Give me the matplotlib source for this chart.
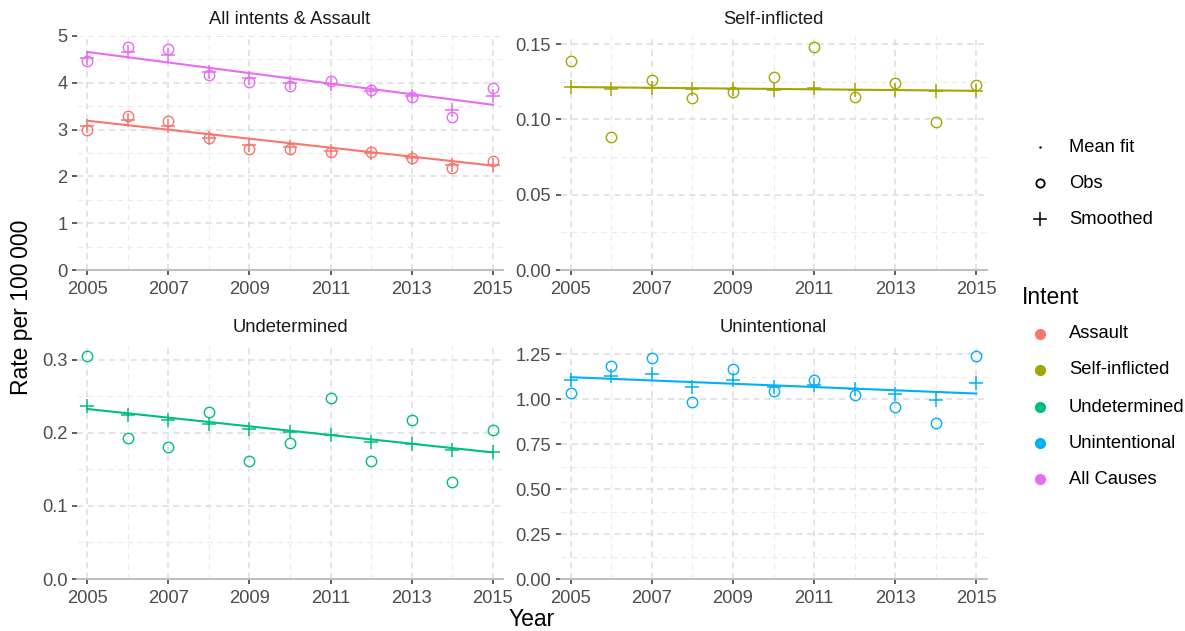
import numpy as np
import matplotlib
matplotlib.use("Agg")
import matplotlib.pyplot as plt
from matplotlib.ticker import FixedLocator

plt.rcParams['font.family'] = ['Liberation Sans', 'DejaVu Sans']

### data ###
years = [2005, 2006, 2007, 2008, 2009, 2010, 2011, 2012, 2013, 2014, 2015]
x_ticks = [2005, 2007, 2009, 2011, 2013, 2015]

assault_obs = [2.99, 3.30, 3.19, 2.83, 2.58, 2.58, 2.53, 2.53, 2.40, 2.17, 2.33]
assault_smooth = [3.08, 3.21, 3.08, 2.83, 2.67, 2.62, 2.55, 2.49, 2.39, 2.24, 2.24]
assault_fit = [3.19, 2.23]          # 2005, 2015

allcauses_obs = [4.47, 4.76, 4.72, 4.17, 4.01, 3.94, 4.04, 3.85, 3.70, 3.26, 3.88]
allcauses_smooth = [4.54, 4.65, 4.59, 4.24, 4.10, 4.00, 3.97, 3.82, 3.72, 3.42, 3.72]
allcauses_fit = [4.66, 3.53]

self_obs = [0.139, 0.0885, 0.1265, 0.114, 0.118, 0.128, 0.148, 0.115, 0.1245, 0.098, 0.1226]
self_smooth = [0.1217, 0.1204, 0.1206, 0.1200, 0.1200, 0.1195, 0.1206, 0.1195, 0.1195, 0.1186, 0.1188]
self_fit = [0.1215, 0.1190]

undet_obs = [0.3046, 0.1927, 0.1804, 0.2279, 0.1607, 0.1863, 0.2470, 0.1612, 0.2169, 0.1329, 0.2032]
undet_smooth = [0.237, 0.2247, 0.2178, 0.2123, 0.205, 0.2005, 0.1963, 0.1868, 0.184, 0.1758, 0.173]
undet_fit = [0.2324, 0.173]

unint_obs = [1.035, 1.185, 1.226, 0.984, 1.165, 1.046, 1.105, 1.025, 0.955, 0.869, 1.239]
unint_smooth = [1.105, 1.127, 1.137, 1.068, 1.105, 1.068, 1.077, 1.057, 1.031, 0.994, 1.087]
unint_fit = [1.122, 1.031]

intents = ["Assault", "Self-inflicted", "Undetermined", "Unintentional", "All Causes"]
colors = ["#F8766D", "#A3A500", "#00BF7D", "#00B0F6", "#E76BF3"]

panel_titles = ["All intents & Assault", "Self-inflicted", "Undetermined", "Unintentional"]
y_ticks = [[0, 1, 2, 3, 4, 5], [0.0, 0.05, 0.10, 0.15], [0.0, 0.1, 0.2, 0.3],
           [0.0, 0.25, 0.5, 0.75, 1.0, 1.25]]
y_minor = [[0.5, 1.5, 2.5, 3.5, 4.5], [0.025, 0.075, 0.125], [0.05, 0.15, 0.25],
           [0.125, 0.375, 0.625, 0.875, 1.125]]
y_labels = [["0", "1", "2", "3", "4", "5"], ["0.00", "0.05", "0.10", "0.15"],
            ["0.0", "0.1", "0.2", "0.3"], ["0.00", "0.25", "0.50", "0.75", "1.00", "1.25"]]
shape_labels = ["Mean fit", "Obs", "Smoothed"]

# which series go in which panel: (obs, smooth, fit, colour index)
panels = [
    [(assault_obs, assault_smooth, assault_fit, 0), (allcauses_obs, allcauses_smooth, allcauses_fit, 4)],
    [(self_obs, self_smooth, self_fit, 1)],
    [(undet_obs, undet_smooth, undet_fit, 2)],
    [(unint_obs, unint_smooth, unint_fit, 3)],
]

### figure ###
W, H = 1185, 631
dpi = 100
fig = plt.figure(figsize=(W / dpi, H / dpi), dpi=dpi)

# panel boxes in pixels: left, top, right, bottom
boxes = [(77, 36, 503, 270), (560.5, 36, 986.5, 270),
         (77, 345, 503, 579), (560.5, 345, 986.5, 579)]

tick_fs = 13.2
title_fs = 16.5
txt_col = "#4D4D4D"

for i, (l, t, r, b) in enumerate(boxes):
    ax = fig.add_axes([l / W, 1 - b / H, (r - l) / W, (b - t) / H])
    top = 0
    for obs, smooth, fit, ci in panels[i]:
        c = colors[ci]
        ax.plot([years[0], years[-1]], fit, color=c, lw=1.5, zorder=3)
        ax.plot(years, obs, 'o', mfc='none', mec=c, ms=7.5, mew=1.0, zorder=4)
        ax.plot(years, smooth, '+', color=c, ms=10, mew=1.1, zorder=4)
        top = max(top, max(obs))
    ax.set_xlim(2004.75, 2015.25)
    ax.set_ylim(0, top * 1.05)
    ax.set_xticks(x_ticks)
    ax.set_xticklabels([str(v) for v in x_ticks])
    ax.set_yticks(y_ticks[i])
    ax.set_yticklabels(y_labels[i])
    ax.xaxis.set_minor_locator(FixedLocator([2006, 2008, 2010, 2012, 2014]))
    ax.yaxis.set_minor_locator(FixedLocator(y_minor[i]))
    ax.grid(which='major', color='#DCDCDC', lw=1.1, ls=(0, (4, 3)), zorder=0)
    ax.grid(which='minor', color='#EBEBEB', lw=0.8, ls=(0, (5, 4)), zorder=0)
    ax.set_axisbelow(True)
    for s in ['top', 'right', 'left']:
        ax.spines[s].set_visible(False)
    ax.spines['bottom'].set_color('#BEBEBE')
    ax.spines['bottom'].set_linewidth(1.4)
    ax.tick_params(which='major', length=3.6, width=1.1, color='#333333',
                   labelsize=tick_fs, labelcolor=txt_col, pad=3.2)
    ax.tick_params(axis='x', which='major', pad=4.5)
    ax.tick_params(which='minor', length=0)
    ax.set_title(panel_titles[i], fontsize=tick_fs, color='#1A1A1A', pad=9)

fig.text(532 / W, 1 - 620 / H, "Year", fontsize=title_fs, ha='center', va='center')
fig.text(22 / W, 1 - 307 / H, "Rate per 100\u2009000", fontsize=title_fs,
         rotation=90, ha='center', va='center')

### legends drawn by hand ###
lax = fig.add_axes([0, 0, 1, 1])
lax.set_xlim(0, W)
lax.set_ylim(H, 0)
lax.axis('off')

key_x = 1040
text_x = 1069
shape_y = [147, 183, 219]
lax.plot([key_x], [shape_y[0]], '.', color='black', ms=1.5)
lax.plot([key_x], [shape_y[1]], 'o', mfc='none', mec='black', ms=6, mew=1.3)
lax.plot([key_x], [shape_y[2]], '+', color='black', ms=10, mew=1.1)
for lab, yy in zip(shape_labels, shape_y):
    lax.text(text_x, yy, lab, fontsize=tick_fs, va='center', ha='left')

lax.text(1022, 297, "Intent", fontsize=title_fs, va='center', ha='left')
intent_y = [334, 370, 407, 443, 479]
for lab, c, yy in zip(intents, colors, intent_y):
    lax.plot([key_x], [yy], 'o', color=c, ms=7)
    lax.text(text_x, yy, lab, fontsize=tick_fs, va='center', ha='left')

fig.savefig("out.png", dpi=dpi)
